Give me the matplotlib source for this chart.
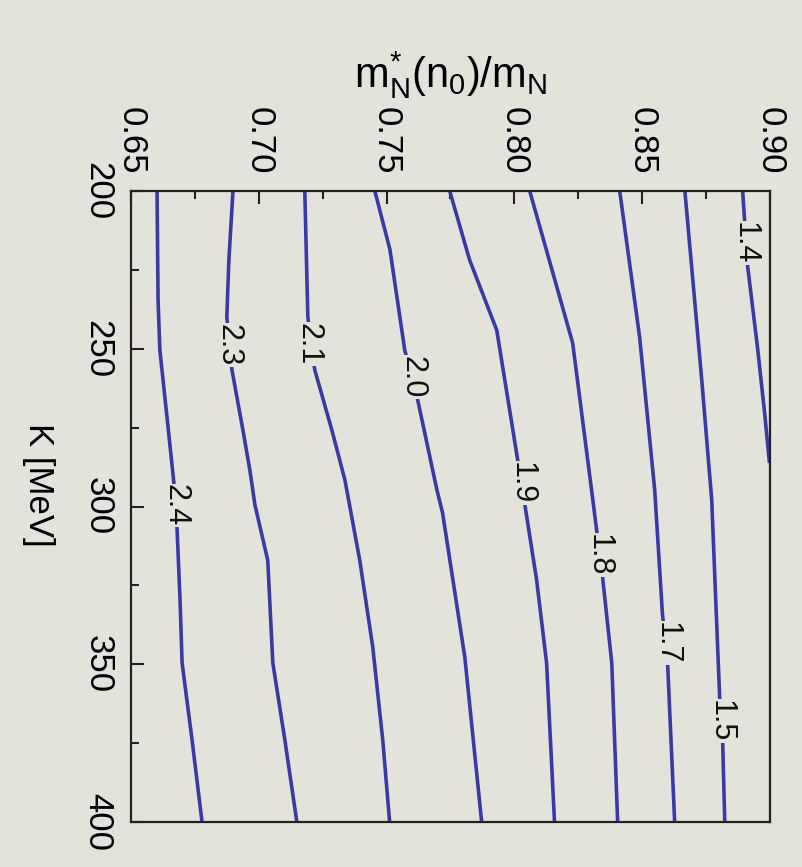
import matplotlib.pyplot as plt
from matplotlib.ticker import FormatStrFormatter, MultipleLocator

plt.rcParams['font.family'] = ['Liberation Sans', 'DejaVu Sans']
plt.rcParams['mathtext.fontset'] = 'custom'
plt.rcParams['mathtext.rm'] = 'Liberation Sans'
plt.rcParams['mathtext.it'] = 'Liberation Sans'

# contour lines: effective mass ratio vs K [MeV]
levels = ["2.4", "2.3", "2.1", "2.0", "1.9", "1.8", "1.7", "1.5", "1.4"]

m_24 = [0.6602, 0.6606, 0.6613, 0.6645, 0.6668, 0.6680, 0.6692, 0.6700, 0.6739, 0.6778]
K_24 = [200, 234.5, 250.4, 274.8, 292.6, 306.5, 329.7, 349.6, 374.0, 400]

m_23 = [0.6899, 0.6883, 0.6875, 0.6895, 0.6938, 0.6965, 0.6985, 0.7035, 0.7055, 0.7102, 0.7149]
K_23 = [200, 221.9, 240.0, 256.7, 275.8, 288.4, 299.5, 317.0, 349.6, 374.0, 400]

m_21 = [0.7180, 0.7192, 0.7219, 0.7286, 0.7337, 0.7395, 0.7446, 0.7485, 0.7512]
K_21 = [200, 240.0, 256.7, 275.8, 291.6, 317.0, 344.6, 374.0, 400]

m_20 = [0.7454, 0.7513, 0.7571, 0.7622, 0.7697, 0.7719, 0.7806, 0.7872]
K_20 = [200, 218.5, 250.4, 266.3, 294.8, 302.0, 347.7, 400]

m_19 = [0.7747, 0.7825, 0.7931, 0.8013, 0.8040, 0.8087, 0.8126, 0.8157]
K_19 = [200, 221.9, 244.1, 285.3, 298.9, 323.3, 349.6, 400]

m_18 = [0.8060, 0.8228, 0.8302, 0.8345, 0.8381, 0.8404]
K_18 = [200, 248.2, 294.8, 322.4, 349.6, 400]

m_17 = [0.8412, 0.8490, 0.8549, 0.8579, 0.8600, 0.8627]
K_17 = [200, 246.3, 294.8, 333.8, 350.9, 400]

m_15 = [0.8667, 0.8733, 0.8772, 0.8803, 0.8815, 0.8823]
K_15 = [200, 259.9, 297.9, 360.4, 375.0, 400]

m_14 = [0.8893, 0.8912, 0.8951, 0.8979, 0.8998]
K_14 = [200, 223.5, 249.5, 270.4, 286.2]

# label spots on each line
lab_m = [0.6676, 0.6880, 0.7195, 0.7600, 0.8030, 0.8330, 0.8595, 0.8808, 0.8900]
lab_K = [299.6, 248.8, 248.5, 259.0, 292.6, 315.4, 343.3, 368.0, 216.5]

lines_m = [m_24, m_23, m_21, m_20, m_19, m_18, m_17, m_15, m_14]
lines_K = [K_24, K_23, K_21, K_20, K_19, K_18, K_17, K_15, K_14]

bg = "#e3e3dc"
blue = "#3a3aa6"

fig = plt.figure(figsize=(8.03, 8.67), dpi=100, facecolor=bg)
ax = fig.add_axes([0.1631, 0.0519, 0.7958, 0.7278], facecolor=bg)

for mm, kk in zip(lines_m, lines_K):
    ax.plot(mm, kk, color=blue, lw=2.6, solid_capstyle="butt")

for lab, mm, kk in zip(levels, lab_m, lab_K):
    ax.text(mm, kk, lab, rotation=-90, ha="center", va="center", fontsize=22,
            color="#111111", zorder=5,
            bbox=dict(facecolor=bg, edgecolor="none", pad=0.5))

ax.set_xlim(0.65, 0.90)
ax.set_ylim(400, 200)

ax.xaxis.set_major_locator(MultipleLocator(0.05))
ax.xaxis.set_minor_locator(MultipleLocator(0.025))
ax.xaxis.set_major_formatter(FormatStrFormatter("%.2f"))
ax.yaxis.set_major_locator(MultipleLocator(50))
ax.yaxis.set_minor_locator(MultipleLocator(25))
ax.yaxis.set_major_formatter(FormatStrFormatter("%d"))

ax.tick_params(axis="x", which="both", direction="in", top=True, bottom=False,
               labeltop=True, labelbottom=False, labelrotation=-90,
               labelsize=25, pad=12, width=1.5, color="#222222")
ax.tick_params(axis="y", which="both", direction="in", left=True, right=False,
               labelrotation=-90, labelsize=25, pad=12, width=1.5, color="#222222")
ax.tick_params(which="major", length=9)
ax.tick_params(which="minor", length=6)
for t in ax.get_yticklabels():
    t.set_va("center")

for s in ax.spines.values():
    s.set_linewidth(1.6)
    s.set_color("#222222")

ax.xaxis.set_label_position("top")
ax.set_xlabel(r"$\mathregular{m^{*}_{N}(n_{0})/m_{N}}$", fontsize=30, labelpad=14)
ax.set_ylabel("K [MeV]", fontsize=25, rotation=-90)
ax.yaxis.set_label_coords(-0.17, 0.534)

fig.savefig("out.png", dpi=100, facecolor=bg)
